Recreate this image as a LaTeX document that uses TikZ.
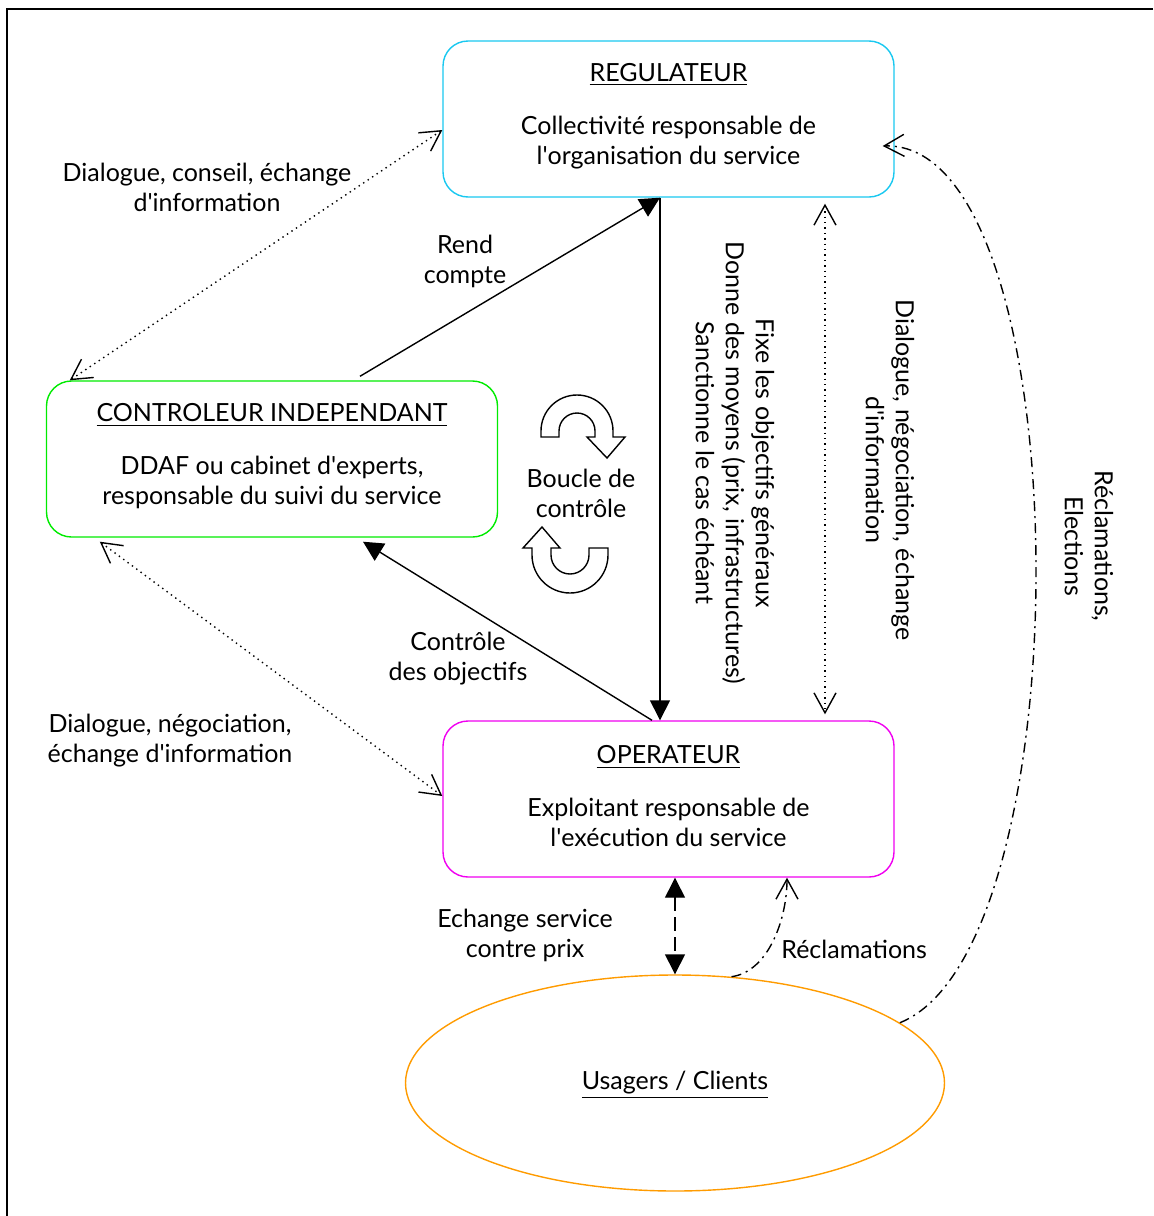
\documentclass[tikz,border=0pt]{standalone}
\usepackage{fontspec}
\setmainfont{Lato}
\usetikzlibrary{arrows.meta,shapes.geometric}
\definecolor{regcol}{RGB}{25,200,240}
\definecolor{ctrlcol}{RGB}{0,235,0}
\definecolor{opercol}{RGB}{240,0,240}
\definecolor{usacol}{RGB}{255,155,0}
\newcommand{\ap}{\textquotesingle}
\tikzset{
  box/.style={draw,rounded corners=12.5pt,line width=0.7pt,minimum width=225.5pt,
    minimum height=78pt,inner sep=0pt},
  lbl/.style={align=center,inner sep=0pt},
  open/.tip={Straight Barb[length=10pt,width=11pt]},
  full/.tip={Triangle[length=10pt,width=10pt]},
  plainlink/.style={line width=0.7pt},
  dotlink/.style={line width=0.7pt,dotted,open-open},
  dashlink/.style={line width=0.7pt,dash pattern=on 7pt off 3pt,full-full},
  dotdash/.style={line width=0.7pt,dash pattern=on 5pt off 2.5pt on 1pt off 2.5pt,-open},
  loopshape/.style={line width=0.7pt,line join=miter}
}
\begin{document}
\begin{tikzpicture}[x=0.5pt,y=0.5pt,font=\fontsize{12.5}{15}\selectfont]
  \useasboundingbox (0,0) rectangle (1153,-1216);
  \draw[line width=1.2pt] (1153,-9) -- (7,-9) -- (7,-1216);

  % les acteurs
  \node[box,draw=regcol] (reg) at (668.5,-119) {};
  \node[lbl] (regtxt) at (668.5,-116.5)
    {\underline{REGULATEUR}\\[11.5pt]Collectivité responsable de\\l\ap organisation du service};
  \node[box,draw=ctrlcol] (ctrl) at (272,-459) {};
  \node[lbl] (ctrltxt) at (272,-456.5)
    {\underline{CONTROLEUR INDEPENDANT}\\[11.5pt]DDAF ou cabinet d\ap experts,\\responsable du suivi du service};
  \node[box,draw=opercol] (oper) at (668.5,-799) {};
  \node[lbl] (opertxt) at (668.5,-796.5)
    {\underline{OPERATEUR}\\[11.5pt]Exploitant responsable de\\l\ap exécution du service};
  \node[ellipse,draw=usacol,line width=0.7pt,minimum width=269.5pt,minimum height=108pt,
    inner sep=0pt] (usagers) at (675,-1083) {};
  \node[lbl] (usatxt) at (675,-1085) {\underline{Usagers / Clients}};

  % les textes
  \node[lbl] (dial1) at (207,-187) {Dialogue, conseil, échange\\d\ap information};
  \node[lbl] (rend) at (465,-261) {Rend\\compte};
  \node[lbl] (boucle) at (581,-493) {Boucle de\\contrôle};
  \node[lbl] (ctrlobj) at (458,-659) {Contrôle\\des objectifs};
  \node[lbl] (dial2) at (170,-741) {Dialogue, négociation,\\échange d\ap information};
  \node[lbl] (echange) at (525,-935) {Echange service\\contre prix};
  \node[lbl,anchor=west] (reclam) at (781,-949) {Réclamations};
  \node[lbl,rotate=-90] (fixe) at (735,-463)
    {Fixe les objectifs généraux\\Donne des moyens (prix, infrastructures)\\Sanctionne le cas échéant};
  \node[lbl,rotate=-90] (dial3) at (890,-470) {Dialogue, négociation, échange\\d\ap information};
  \node[lbl,rotate=-90] (elect) at (1089,-546) {Réclamations,\\Elections};

  % boucle de controle
  \draw[loopshape] (541,-437) -- (541,-431) arc[start angle=180,end angle=0,radius=18pt]
    -- (613,-437) -- (625,-437) -- (607,-458) -- (587,-437) -- (595,-437) -- (595,-431)
    arc[start angle=0,end angle=180,radius=9pt] -- (559,-437) -- cycle;
  \draw[loopshape] (608,-548) -- (608,-555) arc[start angle=0,end angle=-180,radius=19pt]
    -- (532,-548) -- (523,-548) -- (542,-527) -- (560,-548) -- (551,-548) -- (551,-555)
    arc[start angle=180,end angle=360,radius=9.5pt] -- (589,-548) -- cycle;

  % les liens
  \draw[dotlink] ([yshift=-5.5pt]reg.west) -- ([xshift=12pt]ctrl.north west);
  \draw[dotlink] ([xshift=27pt,yshift=-2pt]ctrl.south west) -- ([yshift=1.5pt]oper.west);
  \draw[plainlink,-full] ([xshift=44pt,yshift=2pt]ctrl.north) -- ([xshift=-4.25pt]reg.south);
  \draw[plainlink,-full] ([xshift=-4.25pt]reg.south) -- ([xshift=-4.25pt]oper.north);
  \draw[plainlink,-full] ([xshift=-8.25pt]oper.north) -- ([xshift=45.5pt,yshift=-2pt]ctrl.south);
  \draw[dotlink] ([xshift=78.25pt,yshift=-3pt]reg.south) -- ([xshift=78.25pt,yshift=3pt]oper.north);
  \draw[dashlink] (oper.south -| usagers.north) -- (usagers.north);
  \draw[dotdash] (usagers.62) .. controls +(37,5) and +(0,-41) .. ([xshift=59.25pt]oper.south);
  \draw[dotdash] (usagers.15) .. controls +(187,75) and +(198,6) .. ([xshift=-6pt,yshift=-13.5pt]reg.east);
\end{tikzpicture}
\end{document}
